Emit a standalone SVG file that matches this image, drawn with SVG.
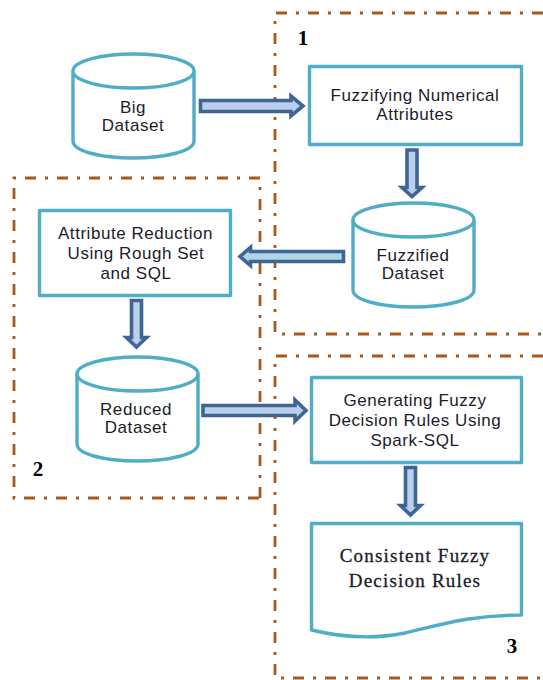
<svg xmlns="http://www.w3.org/2000/svg" width="543" height="680" viewBox="0 0 543 680">
<style>
.frame{fill:none;stroke:#a5591c;stroke-width:2.8;stroke-dasharray:11 9 3 9}
.shape{fill:#fff;stroke:#4fadc8;stroke-width:3.4;stroke-linejoin:round}
.arrow{fill:#bad0ea;stroke:#3f6595;stroke-width:3.6}
.teal{fill:#b0d5e4}
text{font-family:"Liberation Sans",Arial,sans-serif;font-size:17px;letter-spacing:.55px;fill:#1c1c2c;text-anchor:middle}
.serif{font-family:"Liberation Serif","Times New Roman",serif;font-size:19px;letter-spacing:1.2px;stroke:#1c1c2c;stroke-width:.3px}
.num{font-family:"Liberation Serif","Times New Roman",serif;font-size:21px;font-weight:bold;fill:#000;letter-spacing:0}
</style>
<g id="frames">
<path class="frame" d="M543 13H275V334H543"/>
<path class="frame" d="M260 498V178H14V498Z"/>
<path class="frame" d="M543 356H275V678H543"/>
</g>
<g id="big-dataset">
<path class="shape" d="M73 71V141C73 151 100 158 133 158S194 151 194 141V71"/>
<ellipse class="shape" cx="133.500" cy="71" rx="60.500" ry="17"/>
<text x="133" y="113">Big</text><text x="133" y="131">Dataset</text>
</g>
<g id="fuzzifying">
<rect class="shape" x="309.500" y="66.500" width="212" height="78"/>
<text x="415" y="101">Fuzzifying Numerical</text><text x="415" y="120">Attributes</text>
</g>
<g id="fuzzified-dataset">
<path class="shape" d="M353 220V290C353 300 380 307 413 307S474 300 474 290V220"/>
<ellipse class="shape" cx="413.500" cy="220" rx="60.500" ry="17"/>
<text x="413" y="261">Fuzzified</text><text x="413" y="279">Dataset</text>
</g>
<g id="attribute-reduction">
<rect class="shape" x="39.500" y="210.500" width="191" height="85"/>
<text x="135.500" y="239">Attribute Reduction</text><text x="136" y="258.500">Using Rough Set</text><text x="136" y="279">and SQL</text>
</g>
<g id="reduced-dataset">
<path class="shape" d="M77 374V444C77 454 104 461 137 461S198 454 198 444V374"/>
<ellipse class="shape" cx="137.500" cy="374" rx="60.500" ry="17"/>
<text x="136" y="415">Reduced</text><text x="136" y="433">Dataset</text>
</g>
<g id="generating">
<rect class="shape" x="311.500" y="377.500" width="210" height="85"/>
<text x="415" y="406">Generating Fuzzy</text><text x="415" y="426">Decision Rules Using</text><text x="415" y="446">Spark-SQL</text>
</g>
<g id="consistent-rules">
<path class="shape" d="M311.500 523.500H521.500V615C470 615 440 625 405 633C370 640 340 637 311.500 630Z"/>
<text class="serif" x="415" y="562">Consistent Fuzzy</text><text class="serif" x="415" y="587">Decision Rules</text>
</g>
<g id="labels">
<text class="num" x="303" y="45">1</text>
<text class="num" x="38" y="476">2</text>
<text class="num" x="512" y="653">3</text>
</g>
<g id="connectors">
<path class="arrow" d="M200.500 100.500H291V96L303 106 291 116V111.500H200.500Z"/>
<path class="arrow" d="M407 150V187.500H402L412 196.500 422 187.500H417V150Z"/>
<path class="arrow teal" d="M343.500 251.500H250.500V247.500L240 256.500 250.500 265.500V261.500H343.500Z"/>
<path class="arrow" d="M131.500 300.500V337.500H126.500L136.500 347 146.500 337.500H141.500V300.500Z"/>
<path class="arrow" d="M203 405.500H295V400L306 410.500 295 421V415.500H203Z"/>
<path class="arrow" d="M405.500 467.500V505.500H400.500L410.500 515 420.500 505.500H415.500V467.500Z"/>
</g>
</svg>
